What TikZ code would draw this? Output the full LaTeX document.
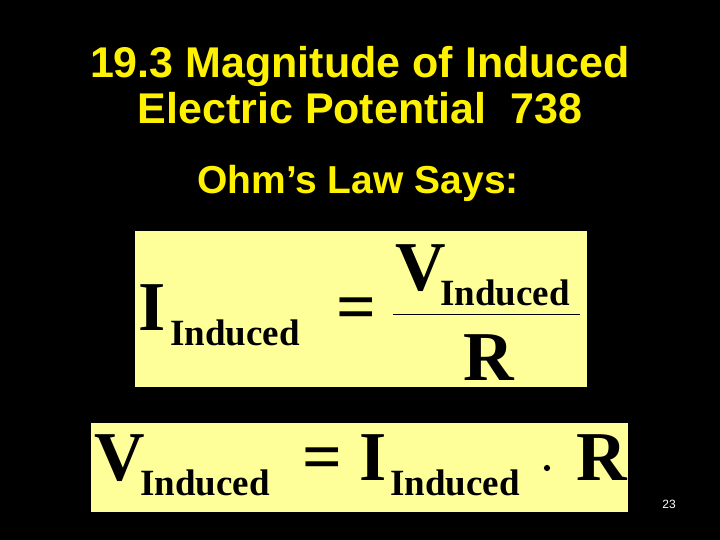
\documentclass[tikz,border=0pt]{standalone}
\usepackage{fontspec}
\setmainfont{Liberation Sans}
\newfontfamily\eqfont{Liberation Serif}
\begin{document}
\tikzset{
  title/.style={text=yellow, font=\fontsize{43}{50}\selectfont\bfseries, align=center},
  eqbox/.style={fill=eqyellow, draw=none},
  big/.style={anchor=base west, inner sep=0pt, font=\eqfont\fontsize{70}{70}\selectfont\bfseries},
  sub/.style={anchor=base west, inner sep=0pt, font=\eqfont\fontsize{37}{37}\selectfont\bfseries}
}
\definecolor{eqyellow}{HTML}{FFFF99}
\begin{tikzpicture}[x=1pt, y=-1pt]
\fill[black] (0,0) rectangle (720,540);
\useasboundingbox (0,0) rectangle (720,540);
% heading
\node (head) [title] at (360,85) {19.3 Magnitude of Induced\\[-4pt]Electric Potential\ \ 738};
\node (ohm) [title, font=\fontsize{39}{44}\selectfont\bfseries] at (358,183) {Ohm’s Law Says:};
% first equation
\fill[eqbox] (135,231) rectangle (587,387);
\node (i1) [big] at (138,330) {I};
\node (i1s) [sub] at (170,345) {Induced};
\node (eq1) [big] at (336,330) {=};
\node (v1) [big] at (395,290) {V};
\node (v1s) [sub] at (440,305) {Induced};
\draw[line width=1pt] (393,314) -- (580,314);
\node (r1) [big] at (463,380) {R};
% second equation
\fill[eqbox] (91,423) rectangle (628,512);
\node (v2) [big] at (94,480) {V};
\node (v2s) [sub] at (140,495) {Induced};
\node (eq2) [big] at (302,480) {= I};
\node (i2s) [sub] at (390,495) {Induced};
\node (dot) [fill=black, circle, inner sep=2.2pt] at (547,468) {};
\node (r2) [big] at (576,480) {R};
% page number
\node (pg) [text=white, font=\fontsize{12}{12}\selectfont] at (669,504) {23};
\end{tikzpicture}
\end{document}
